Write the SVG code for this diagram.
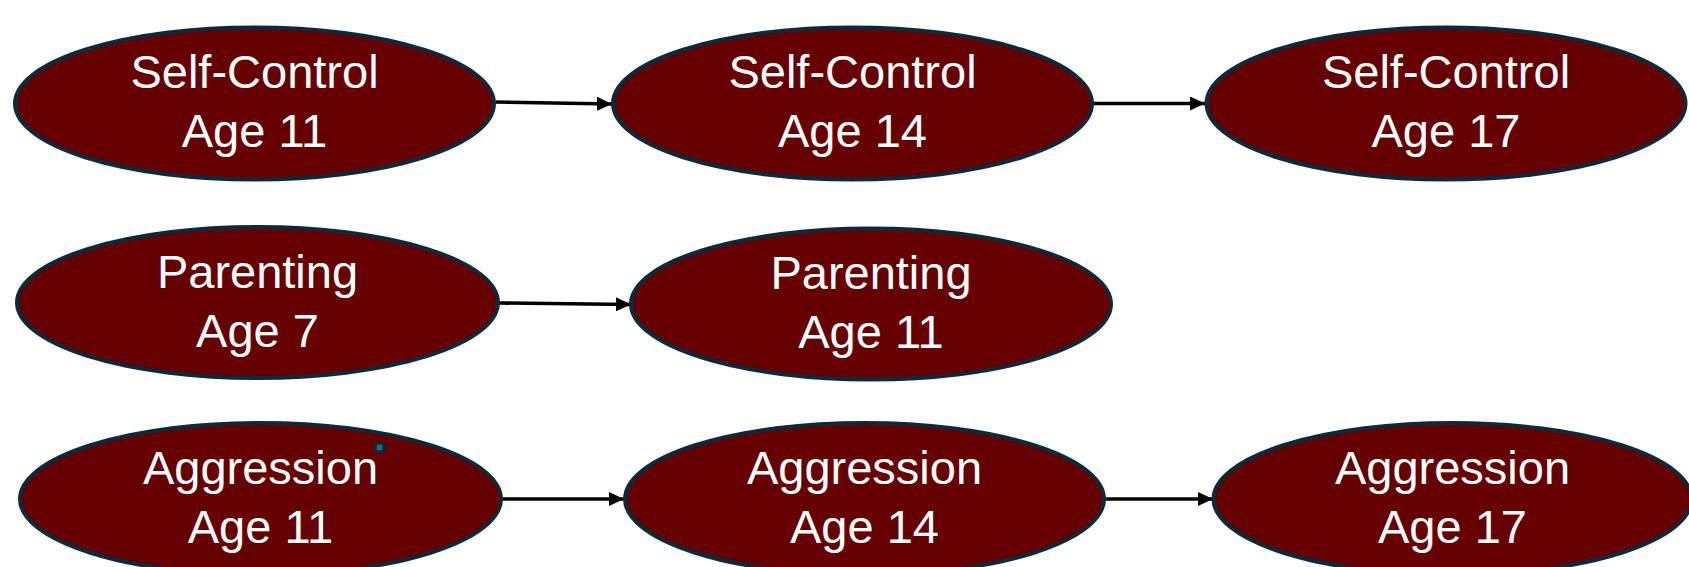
<svg xmlns="http://www.w3.org/2000/svg" width="1689" height="567" viewBox="0 0 1689 567">
  <style>
    .node ellipse { fill: #660000; stroke: #0d2a3a; stroke-width: 4; }
    .node text { fill: #ffffff; font-family: "Liberation Sans", Arial, sans-serif; font-size: 47px; text-anchor: middle; }
    .edge { stroke: #000000; stroke-width: 3.5; fill: none; marker-end: url(#arrow); }
  </style>
  <defs>
    <!-- filled triangular arrowhead, about 15 x 14 px at the connector width -->
    <marker id="arrow" viewBox="0 0 10 10" refX="10" refY="5" markerWidth="4.3" markerHeight="4" markerUnits="strokeWidth" orient="auto" preserveAspectRatio="none">
      <path d="M0,0 L10,5 L0,10 z" fill="#000000"/>
    </marker>
  </defs>
  <rect width="1689" height="567" fill="#ffffff"/>

  <!-- connectors -->
  <g id="connectors">
    <line class="edge" x1="496" y1="102" x2="612" y2="104"/>
    <line class="edge" x1="1093" y1="103.5" x2="1205" y2="103.5"/>
    <line class="edge" x1="499" y1="303" x2="631" y2="304.5"/>
    <line class="edge" x1="502" y1="499" x2="624" y2="499"/>
    <line class="edge" x1="1105" y1="499" x2="1213" y2="499"/>
  </g>

  <!-- row 1: self-control -->
  <g id="sc11" class="node">
    <ellipse cx="254.5" cy="103.5" rx="239.5" ry="76"/>
    <text x="254.5" y="88">Self-Control</text>
    <text x="254.5" y="146.5">Age 11</text>
  </g>
  <g id="sc14" class="node">
    <ellipse cx="852.5" cy="103.5" rx="239.5" ry="76"/>
    <text x="852.5" y="88">Self-Control</text>
    <text x="852.5" y="146.5">Age 14</text>
  </g>
  <g id="sc17" class="node">
    <ellipse cx="1446" cy="103.5" rx="239.5" ry="76"/>
    <text x="1446" y="88">Self-Control</text>
    <text x="1446" y="146.5">Age 17</text>
  </g>

  <!-- row 2: parenting -->
  <g id="par7" class="node">
    <ellipse cx="257.5" cy="302.5" rx="240.5" ry="75.5"/>
    <text x="257.5" y="288">Parenting</text>
    <text x="257.5" y="346.5">Age 7</text>
  </g>
  <g id="par11" class="node">
    <ellipse cx="871" cy="304" rx="240" ry="75.5"/>
    <text x="871" y="289">Parenting</text>
    <text x="871" y="347.5">Age 11</text>
  </g>

  <!-- row 3: aggression -->
  <g id="agg11" class="node">
    <ellipse cx="260.5" cy="499" rx="240.5" ry="76"/>
    <text x="260.5" y="484">Aggression</text>
    <text x="260.5" y="542.5">Age 11</text>
    <rect x="375.5" y="443.5" width="8" height="8" fill="#1e6a8c" stroke="#0d2a3a" stroke-width="2.5"/>
  </g>
  <g id="agg14" class="node">
    <ellipse cx="864.5" cy="499" rx="239.5" ry="76"/>
    <text x="864.5" y="484">Aggression</text>
    <text x="864.5" y="542.5">Age 14</text>
  </g>
  <g id="agg17" class="node">
    <ellipse cx="1452.5" cy="499" rx="239" ry="76"/>
    <text x="1452.5" y="484">Aggression</text>
    <text x="1452.5" y="542.5">Age 17</text>
  </g>
</svg>
